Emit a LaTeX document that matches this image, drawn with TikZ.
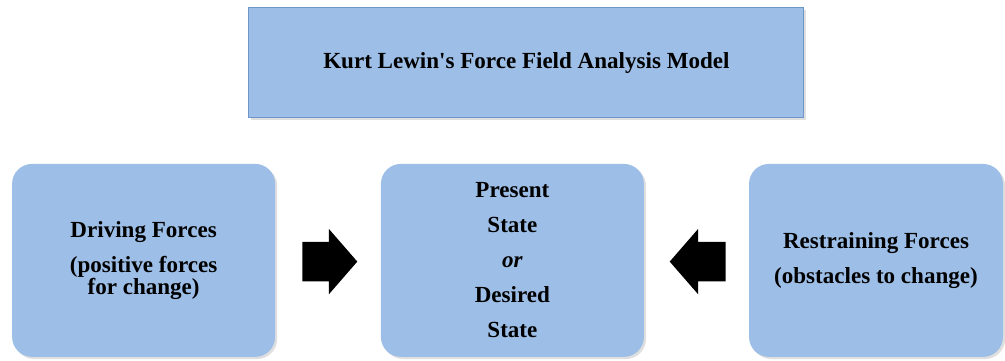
\documentclass[tikz,border=0pt]{standalone}
\usepackage{fontspec}
\setmainfont{Liberation Serif}
\usetikzlibrary{shapes.arrows,shadows}
\definecolor{boxblue}{RGB}{157,190,230}
\definecolor{edgeblue}{RGB}{110,150,200}

\begin{document}
\begin{tikzpicture}[
  box/.style={fill=boxblue, rounded corners=0.5cm, align=center,
    font=\fontsize{16.4}{24.9}\selectfont\bfseries,
    drop shadow={opacity=0.25, shadow xshift=1.5pt, shadow yshift=-1.5pt}},
  force/.style={single arrow, fill=black, inner xsep=0pt, inner ysep=0.4875cm,
    single arrow head extend=0.325cm, single arrow tip angle=98, anchor=tail}
]
\useasboundingbox (0,0) rectangle (25.125,9);

% 标题
\node[box, rounded corners=0pt, draw=edgeblue, line width=0.8pt,
  minimum width=13.875cm, minimum height=2.75cm] (title) at (13.16,7.43)
  {Kurt Lewin\textquotesingle s Force Field Analysis Model};

% 三个方框
\node[box, minimum width=6.575cm, minimum height=4.825cm] (driving) at (3.59,2.49)
  {Driving Forces\\(positive forces\\[-9.3pt]for change)};
\node[box, minimum width=6.575cm, minimum height=4.825cm] (state) at (12.81,2.49)
  {Present\\State\\\textit{or}\\Desired\\State};
\node[box, minimum width=6.35cm, minimum height=4.825cm] (restraining) at (21.9,2.49)
  {Restraining Forces\\(obstacles to change)};

% 箭头
\node[force, minimum height=1.375cm] (push) at (7.55,2.46) {};
\node[force, minimum height=1.4cm, shape border rotate=180] (resist) at (18.15,2.46) {};
\end{tikzpicture}
\end{document}
